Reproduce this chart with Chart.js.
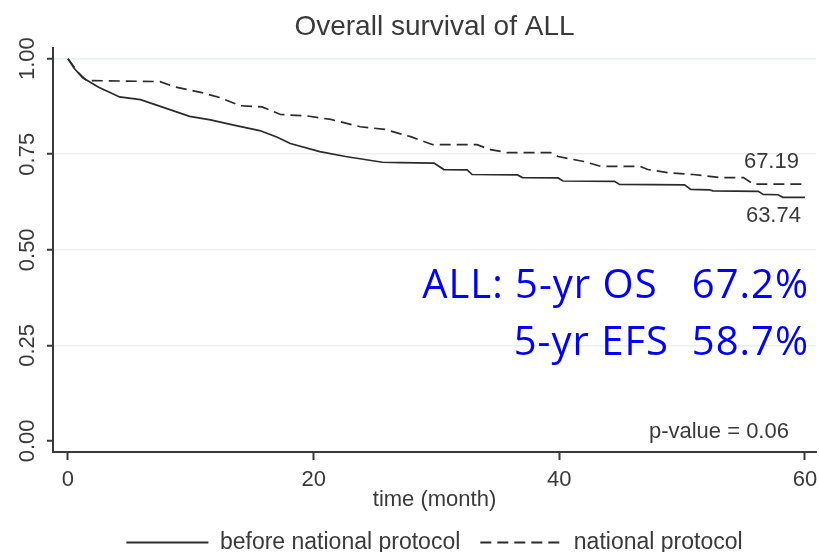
<!DOCTYPE html>
<html>
<head>
<meta charset="utf-8">
<script src="https://cdn.jsdelivr.net/npm/chart.js@4.4.1/dist/chart.umd.min.js"></script>
<style>
  html,body{margin:0;padding:0;background:#fff;}
</style>
</head>
<body>
<canvas id="chartSurvival" width="819" height="552"></canvas>
<script>
// curva de sobrevida global - ALL (Kaplan-Meier)
const seriesNames = ['before national protocol', 'national protocol'];

const beforeTime = [0, 0.5, 1.2, 2.5, 4.2, 5.9, 8, 9.9, 11.6, 13.5, 15.6, 17, 18.1, 20.5, 22.6, 25.6,
  27.1, 29.8, 30.6, 32.5, 32.9, 36.6, 37, 39.9, 40.3, 44.5, 44.9, 50.2, 50.7, 52.2, 52.5, 56.2, 56.6, 57.8, 58.2, 60];
const beforeSurv = [1, 0.975, 0.95, 0.925, 0.9, 0.893, 0.87, 0.849, 0.84, 0.826, 0.812, 0.795, 0.778, 0.757, 0.744, 0.729,
  0.728, 0.727, 0.71, 0.709, 0.697, 0.696, 0.689, 0.688, 0.68, 0.679, 0.671, 0.67, 0.658, 0.657, 0.654, 0.653, 0.645, 0.644, 0.6374, 0.6374];

const nationalTime = [0, 0.8, 1.5, 7.5, 8.6, 10.8, 12.4, 14, 15.8, 17.3, 19.5, 21.4, 23.8, 25.8, 27.9, 29.7,
  33.3, 34.4, 35.8, 39.3, 39.9, 42, 43.4, 46.6, 47.2, 48.8, 50.9, 53.1, 55, 55.8, 60];
const nationalSurv = [1, 0.965, 0.943, 0.94, 0.927, 0.912, 0.898, 0.877, 0.874, 0.854, 0.85, 0.841, 0.822, 0.815, 0.796, 0.775,
  0.775, 0.762, 0.754, 0.754, 0.744, 0.731, 0.718, 0.718, 0.71, 0.702, 0.697, 0.689, 0.689, 0.6719, 0.6719];

const xTicks = [0, 20, 40, 60];
const yTicks = [0, 0.25, 0.5, 0.75, 1];
const endLabels = ['67.19', '63.74'];
const pValueText = 'p-value = 0.06';
const summaryLines = ['ALL: 5-yr OS   67.2%', '5-yr EFS  58.7%'];

const INK = '#3a3a3a';
const LINE = '#2b2b2b';
const FONT = "'Liberation Sans', Arial, sans-serif";

function toPoints(xs, ys){ return xs.map((x, i) => ({x, y: ys[i]})); }

// textos extras: valores finais, p-valor e resumo em azul
const annotations = {
  id: 'annotations',
  afterDatasetsDraw(chart){
    const {ctx, scales:{x, y}, chartArea} = chart;
    ctx.save();
    ctx.fillStyle = INK;
    ctx.font = `22px ${FONT}`;
    ctx.textAlign = 'right';
    ctx.textBaseline = 'middle';
    const xr = x.getPixelForValue(60) - 6;
    ctx.fillText(endLabels[0], xr, y.getPixelForValue(0.6719) - 22);
    ctx.fillText(endLabels[1], xr + 2, y.getPixelForValue(0.6374) + 19);
    ctx.fillText(pValueText, xr - 10, y.getPixelForValue(0) - 9);

    ctx.fillStyle = '#0000ff';
    ctx.font = `40px 'Open Sans', sans-serif`;
    ctx.letterSpacing = '1px';
    ctx.textBaseline = 'alphabetic';
    ctx.fillText(summaryLines[0], chartArea.right - 7, 298);
    ctx.fillText(summaryLines[1], chartArea.right - 7, 355);
    ctx.restore();
  }
};

new Chart(document.getElementById('chartSurvival'), {
  type: 'line',
  data: {
    datasets: [
      { label: seriesNames[0], data: toPoints(beforeTime, beforeSurv), borderColor: LINE, borderWidth: 1.7, pointRadius: 0, fill: false, tension: 0 },
      { label: seriesNames[1], data: toPoints(nationalTime, nationalSurv), borderColor: LINE, borderWidth: 1.7, borderDash: [11, 6], pointRadius: 0, fill: false, tension: 0 }
    ]
  },
  options: {
    responsive: false,
    animation: false,
    layout: { padding: { left: 0, right: 3, top: 0, bottom: -12 } },
    plugins: {
      title: { display: true, text: 'Overall survival of ALL', color: INK, fullSize: false,
        font: { family: FONT, size: 28, weight: 'normal', lineHeight: 1.2 }, padding: { top: 10, bottom: 4 } },
      legend: { position: 'bottom', fullSize: false,
        labels: { usePointStyle: true, pointStyle: 'line', pointStyleWidth: 82, boxHeight: 23, padding: 20, color: INK,
          font: { family: FONT, size: 23, lineHeight: 1 },
          generateLabels: chart => Chart.defaults.plugins.legend.labels.generateLabels(chart).map((item, i) => ({
            ...item, lineDash: chart.data.datasets[i].borderDash || [], lineWidth: 1.8, strokeStyle: LINE
          })) } },
      tooltip: { enabled: false }
    },
    scales: {
      x: {
        type: 'linear', min: -1.22, max: 60.9,
        afterBuildTicks: s => { s.ticks = xTicks.map(v => ({value: v})); },
        afterFit: s => { s.paddingLeft = 0; s.paddingRight = 0; },
        grid: { drawOnChartArea: false, drawTicks: true, tickLength: 8, tickColor: INK, tickWidth: 2 },
        border: { color: INK, width: 2 },
        ticks: { color: INK, padding: 9, font: { family: FONT, size: 22, lineHeight: 1 }, maxRotation: 0 },
        title: { display: true, text: 'time (month)', color: INK, padding: { top: -11, bottom: 0 },
          font: { family: FONT, size: 22, lineHeight: 1 } }
      },
      y: {
        min: -0.029, max: 1.029,
        afterBuildTicks: s => { s.ticks = yTicks.map(v => ({value: v})); },
        afterFit: s => { s.width = 53; },
        grid: { color: c => (c.tick && c.tick.value === 0) ? 'rgba(0,0,0,0)' : '#eaf0f0', lineWidth: 1.5,
          drawTicks: true, tickLength: 6, tickColor: INK, tickWidth: 2 },
        border: { color: INK, width: 2 },
        ticks: { color: INK, padding: -2, minRotation: 90, maxRotation: 90, crossAlign: 'center',
          callback: v => v.toFixed(2), font: { family: FONT, size: 22, lineHeight: 1 } }
      }
    }
  },
  plugins: [annotations]
});
</script>
</body>
</html>
